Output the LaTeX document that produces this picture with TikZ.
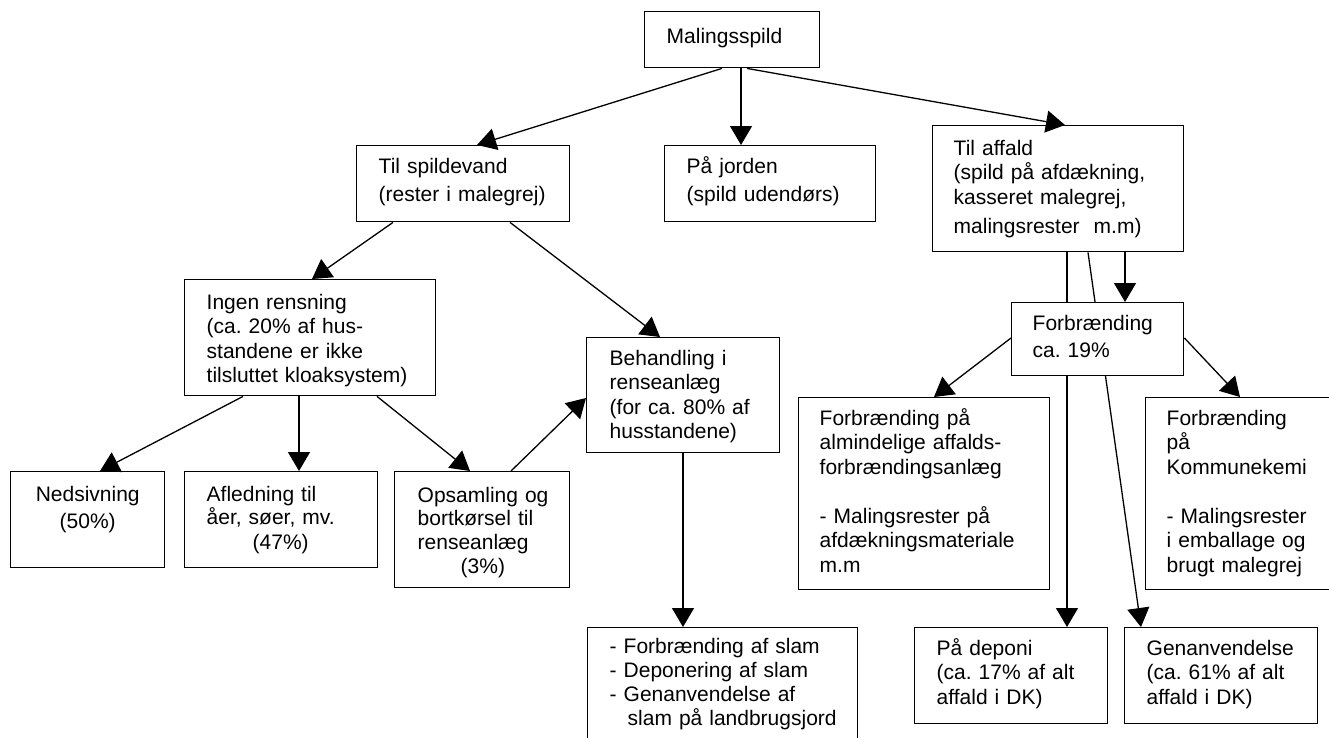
\documentclass[tikz,border=0pt]{standalone}
\usepackage{fontspec}
\setmainfont{Liberation Sans}
\usetikzlibrary{arrows.meta,backgrounds}

\begin{document}
\begin{tikzpicture}[x=1pt,y=-1pt,line width=1.4pt,
	box/.style={draw,fill=white,anchor=north west,inner sep=0pt},
	txt/.style={anchor=base west,text width=260pt,align=left,inner sep=0pt,font=\fontsize{21}{24.5}\selectfont\frenchspacing},
	arr/.style={line width=1.3pt,-{Triangle[length=19pt,width=22pt]}}]
	\useasboundingbox (0,0) rectangle (1329,737);
	\clip (0,0) rectangle (1329,737);
	
	%boxes
	\node[box,minimum width=175pt,minimum height=56pt] (spild) at (644,11) {};
	\node[box,minimum width=213pt,minimum height=76pt] (spildevand) at (356,145) {};
	\node[box,minimum width=211pt,minimum height=76pt] (jorden) at (664,145) {};
	\node[box,minimum width=251pt,minimum height=126pt] (affald) at (932,125) {};
	\node[box,minimum width=251pt,minimum height=116pt] (ingen) at (184,279) {};
	\node[box,minimum width=172pt,minimum height=73pt] (forbr) at (1011,302) {};
	\node[box,minimum width=193pt,minimum height=115pt] (behandling) at (586,337) {};
	\node[box,minimum width=251pt,minimum height=192pt] (almind) at (798,397) {};
	\node[box,minimum width=200pt,minimum height=192pt] (kommune) at (1145,397) {};
	\node[box,minimum width=154pt,minimum height=96pt] (nedsiv) at (10,471) {};
	\node[box,minimum width=193pt,minimum height=96pt] (afled) at (184,471) {};
	\node[box,minimum width=175pt,minimum height=116pt] (opsaml) at (394,471) {};
	\node[box,minimum width=270pt,minimum height=130pt] (slam) at (587,627) {};
	\node[box,minimum width=193pt,minimum height=96pt] (deponi) at (914,627) {};
	\node[box,minimum width=193pt,minimum height=96pt] (genanv) at (1124,627) {};
	
	%texts
	\node[txt] (spild-t) at (666,43) {Malingsspild};
	\node[txt] (spildevand-t) at (378,173) {Til spildevand\\[3.5pt](rester i malegrej)};
	\node[txt] (jorden-t) at (686,173) {På jorden\\[4pt](spild udendørs)};
	\node[txt] (affald-t) at (953,155) {Til affald\\(spild på afdækning,\\kasseret malegrej,\\[4.5pt]malingsrester\ \ m.m)};
	\node[txt] (ingen-t) at (206,309) {Ingen rensning\\(ca. 20\% af hus-\\standene er ikke\\tilsluttet kloaksystem)};
	\node[txt] (forbr-t) at (1032,330) {Forbrænding\\[2.5pt]ca. 19\%};
	\node[txt] (behandling-t) at (609,365) {Behandling i\\renseanlæg\\(for ca. 80\% af\\husstandene)};
	\node[txt] (almind-t) at (819,425) {Forbrænding på\\almindelige affalds-\\forbrændingsanlæg\\[24.5pt]- Malingsrester på\\afdækningsmateriale\\m.m};
	\node[txt] (kommune-t) at (1166,425) {Forbrænding\\på\\Kommunekemi\\[24.5pt]- Malingsrester\\i emballage og\\brugt malegrej};
	\node[txt,text width=154pt,align=center] (nedsiv-t) at (10,501) {Nedsivning\\[2.5pt](50\%)};
	\node[txt] (afled-t) at (206,501) {Afledning til\\[-1pt]åer, søer, mv.\\\hspace*{46pt}(47\%)};
	\node[txt] (opsaml-t) at (417,502) {Opsamling og\\[-1pt]bortkørsel til\\[-0.5pt]renseanlæg\\[-1pt]\hspace*{43pt}(3\%)};
	\node[txt] (slam-t) at (609,653) {- Forbrænding af slam\\[-0.5pt]- Deponering af slam\\[-0.5pt]- Genanvendelse af\\[-0.5pt]\hspace*{18pt}slam på landbrugsjord};
	\node[txt] (deponi-t) at (936,655) {På deponi\\(ca. 17\% af alt\\affald i DK)};
	\node[txt] (genanv-t) at (1146,655) {Genanvendelse\\(ca. 61\% af alt\\affald i DK)};
	
	%arrows
	\draw[arr] ([xshift=78pt]spild.south west) -- ([xshift=121pt]spildevand.north west);
	\draw[arr] ([xshift=97pt]spild.south west) -- ([xshift=97pt]spild.south west |- jorden.north);
	\draw[arr] ([xshift=103pt]spild.south west) -- ([xshift=133pt]affald.north west);
	\draw[arr] ([xshift=37pt]spildevand.south west) -- ([xshift=128pt]ingen.north west);
	\draw[arr] ([xshift=154pt]spildevand.south west) -- ([xshift=74pt]behandling.north west);
	\draw[arr] ([xshift=59pt]ingen.south west) -- ([xshift=90pt]nedsiv.north west);
	\draw[arr] ([xshift=115pt]ingen.south west) -- ([xshift=115pt]ingen.south west |- afled.north);
	\draw[arr] ([xshift=193pt]ingen.south west) -- ([xshift=76pt]opsaml.north west);
	\draw[arr] ([xshift=117pt]opsaml.north west) -- ([yshift=-61pt]behandling.north west);
	\draw[arr] ([xshift=97pt]behandling.south west) -- ([xshift=97pt]behandling.south west |- slam.north);
	\draw[arr] ([xshift=193pt]affald.south west) -- ([xshift=193pt]affald.south west |- forbr.north);
	\draw[arr] ([yshift=-36pt]forbr.north west) -- ([xshift=136pt]almind.north west);
	\draw[arr] ([yshift=-36pt]forbr.north east) -- ([xshift=95pt]kommune.north west);
	\begin{scope}[on background layer]
		\draw[arr] ([xshift=135pt]affald.south west) -- ([xshift=135pt]affald.south west |- deponi.north);
		\draw[arr] ([xshift=156pt]affald.south west) -- ([xshift=17pt]genanv.north west);
	\end{scope}
\end{tikzpicture}
\end{document}
